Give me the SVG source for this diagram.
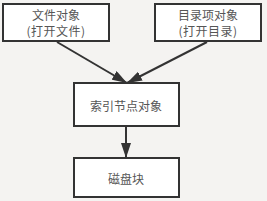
<svg xmlns="http://www.w3.org/2000/svg" width="267" height="201" viewBox="0 0 267 201">
<style>
.box{fill:#ffffff;stroke:#333333;stroke-width:2}
.t{font-family:"Noto Sans CJK SC","Liberation Sans",sans-serif;font-size:12px;fill:#555555;text-anchor:middle}
.c{stroke:#333333;stroke-width:2;fill:none}
</style>
<defs>
<marker id="ah" markerUnits="userSpaceOnUse" markerWidth="15" markerHeight="10" refX="15" refY="5" viewBox="0 0 15 10" orient="auto">
<path d="M0,0 L15,5 L0,10 Z" fill="#333333"/>
</marker>
</defs>
<rect width="267" height="201" fill="#f4f3f1"/>
<g id="connectors">
<line class="c" x1="57" y1="42" x2="127" y2="83" marker-end="url(#ah)"/>
<line class="c" x1="207" y1="42" x2="127" y2="83" marker-end="url(#ah)"/>
<line class="c" x1="126" y1="126" x2="126" y2="158" marker-end="url(#ah)"/>
</g>
<g id="file">
<rect class="box" x="3" y="4" width="106" height="37"/>
<text class="t" x="56" y="20">文件对象</text>
<text class="t" x="56" y="36" letter-spacing="0.5">(打开文件)</text>
</g>
<g id="dentry">
<rect class="box" x="155" y="4" width="106" height="37"/>
<text class="t" x="208" y="20">目录项对象</text>
<text class="t" x="208" y="36" letter-spacing="0.5">(打开目录)</text>
</g>
<g id="inode">
<rect class="box" x="74" y="83" width="105" height="43"/>
<text class="t" x="126" y="111">索引节点对象</text>
</g>
<g id="block">
<rect class="box" x="74" y="158" width="105" height="39"/>
<text class="t" x="126" y="184">磁盘块</text>
</g>
</svg>
